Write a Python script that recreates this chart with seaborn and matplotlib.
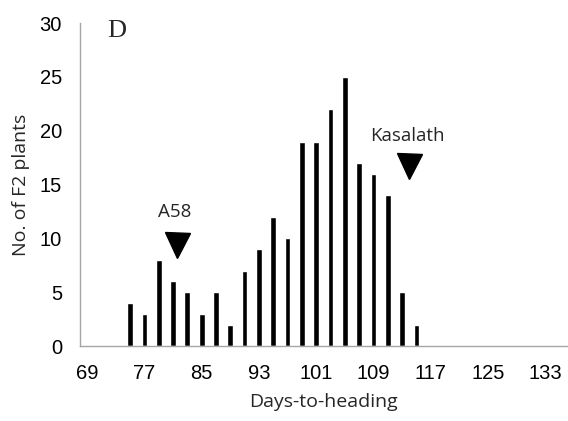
import numpy as np
import pandas as pd
import matplotlib
matplotlib.use("Agg")
import matplotlib.pyplot as plt
import seaborn as sns

# Days-to-heading classes (every 2 days) and number of F2 plants in each
days = [75, 77, 79, 81, 83, 85, 87, 89, 91, 93, 95, 97, 99, 101, 103, 105, 107, 109, 111, 113, 115]
counts = [4, 3, 8, 6, 5, 3, 5, 2, 7, 9, 12, 10, 19, 19, 22, 25, 17, 16, 14, 5, 2]

# Full category axis and the labelled ticks
all_days = list(range(69, 137, 2))
tick_days = [69, 77, 85, 93, 101, 109, 117, 125, 133]

# Parental heading dates
parents = ["A58", "Kasalath"]
parent_days = [81.5, 114.0]
parent_marker_y = [9.4, 16.7]
parent_label_y = [12.5, 19.5]

sns.set_theme(style="white")
plt.rcParams["font.family"] = ["Open Sans", "DejaVu Sans"]

df = pd.DataFrame({"day": days, "count": counts})

fig = plt.figure(figsize=(5.68, 4.21), dpi=100)
ax = fig.add_axes([0.1408, 0.178, 0.857, 0.767])

sns.barplot(data=df, x="day", y="count", order=all_days, color="black",
            width=0.4, saturation=1, ax=ax)

def day_to_pos(d):
    return (d - all_days[0]) / (all_days[1] - all_days[0])

# Parent markers with labels
for name, d, my, ly in zip(parents, parent_days, parent_marker_y, parent_label_y):
    x = day_to_pos(d)
    ax.plot([x], [my], marker="v", markersize=18, color="black", linestyle="none")
    ax.text(x - 0.1, ly, name, ha="center", va="center", fontsize=13.5,
            family=["Open Sans", "DejaVu Sans"])

ax.set_xlim(-0.5, len(all_days) - 0.5)
ax.set_ylim(0, 30)
ax.set_yticks(range(0, 31, 5))
ax.set_yticklabels([str(v) for v in range(0, 31, 5)],
                   family=["Liberation Sans", "DejaVu Sans"], fontsize=14.5)
ax.set_xticks([day_to_pos(d) for d in tick_days])
ax.set_xticklabels([str(d) for d in tick_days],
                   family=["Liberation Sans", "DejaVu Sans"], fontsize=14.5)
ax.tick_params(axis="both", length=0, colors="black")
ax.tick_params(axis="x", pad=13)
ax.tick_params(axis="y", pad=13)

ax.set_xlabel("Days-to-heading", fontsize=14, labelpad=7)
ax.set_ylabel("No. of F2 plants", fontsize=14, labelpad=7)

for side in ["top", "right"]:
    ax.spines[side].set_visible(False)
for side in ["left", "bottom"]:
    ax.spines[side].set_color("#A6A6A6")
    ax.spines[side].set_linewidth(1.0)

ax.text(0.075, 0.975, "D", transform=ax.transAxes, ha="center", va="center",
        fontsize=19, family=["Liberation Serif", "DejaVu Serif"])

fig.savefig("out.png", dpi=100)
